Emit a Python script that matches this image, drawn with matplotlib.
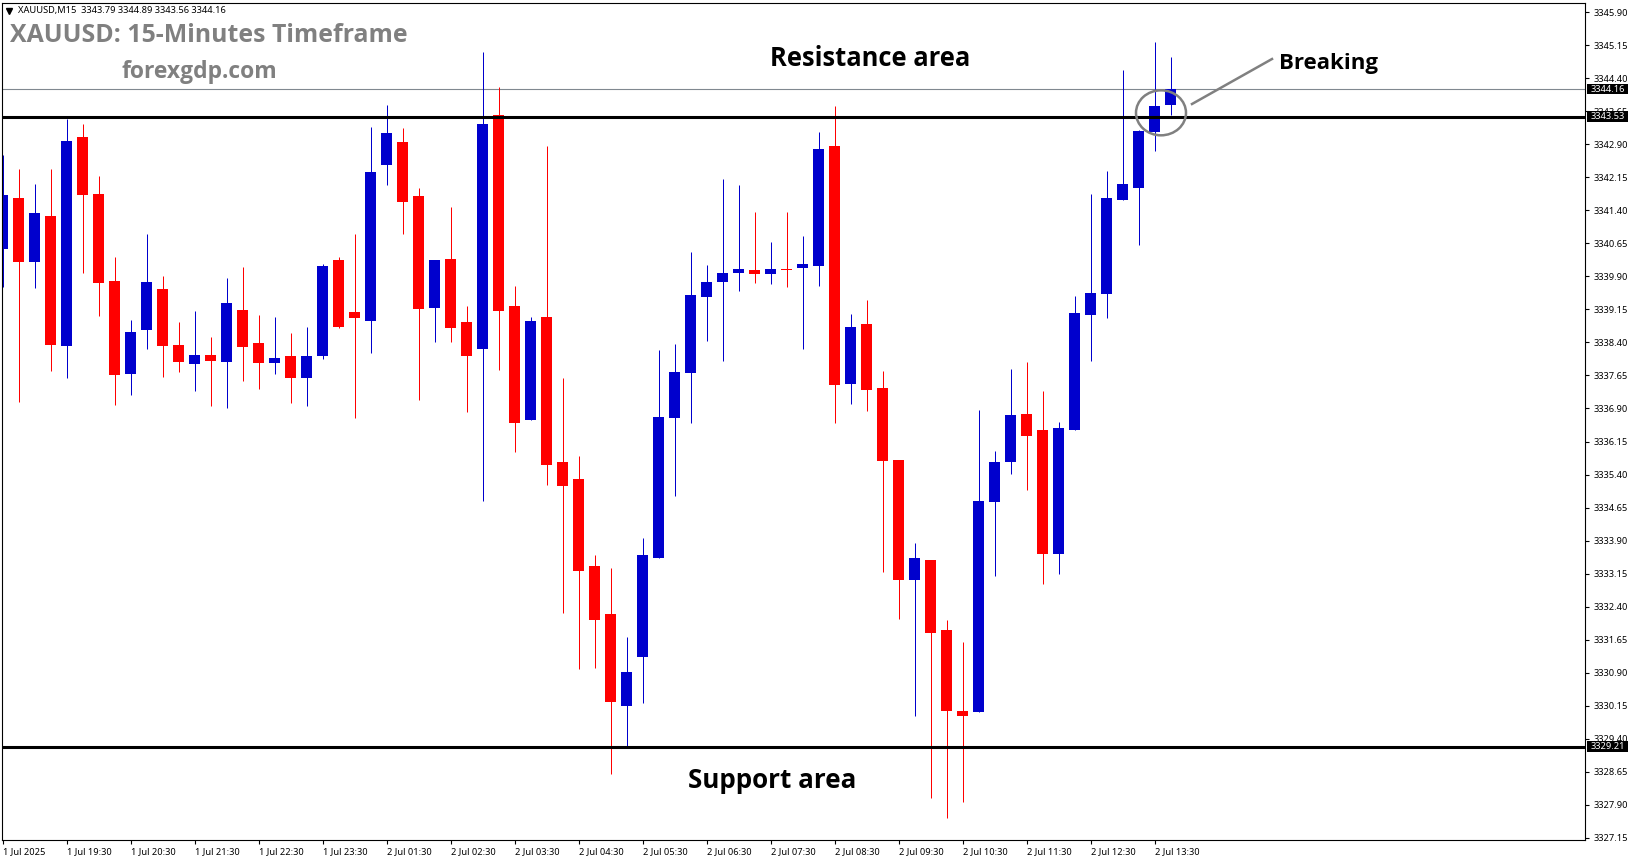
import matplotlib
matplotlib.use('Agg')
import matplotlib.pyplot as plt
from matplotlib.patches import Ellipse, Rectangle
from matplotlib.lines import Line2D
import numpy as np

W, H = 1631, 861

# candle values, 15 minute bars
open_ = [3340.53, 3341.68, 3340.23, 3341.28, 3338.32, 3343.07, 3341.78, 3339.80, 3337.68, 3338.68,
         3339.62, 3338.34, 3337.91, 3338.12, 3337.96, 3339.14, 3338.39, 3337.93, 3338.09, 3337.59,
         3338.09, 3340.28, 3339.09, 3338.89, 3342.43, 3342.96, 3341.73, 3339.18, 3340.30, 3338.87,
         3338.25, 3343.57, 3339.23, 3336.64, 3338.98, 3335.68, 3335.30, 3333.32, 3332.23, 3330.14,
         3331.25, 3333.50, 3336.68, 3337.71, 3339.43, 3339.78, 3339.98, 3340.05, 3339.96, 3340.07,
         3340.09, 3340.14, 3342.87, 3337.46, 3338.82, 3337.37, 3335.73, 3333.00, 3333.46, 3331.87,
         3330.02, 3330.00, 3334.78, 3335.68, 3336.78, 3336.41, 3333.59, 3336.41, 3339.02, 3339.50,
         3341.64, 3341.91, 3343.18, 3343.79]
high = [3342.66, 3342.34, 3342.00, 3342.34, 3343.48, 3343.37, 3342.18, 3340.34, 3338.91, 3340.87,
        3339.91, 3338.87, 3339.12, 3338.53, 3339.87, 3340.12, 3339.03, 3338.98, 3338.62, 3338.75,
        3340.18, 3340.34, 3340.87, 3343.30, 3343.80, 3343.28, 3341.91, 3340.28, 3341.48, 3339.23,
        3345.00, 3344.21, 3339.68, 3338.98, 3342.87, 3337.59, 3335.82, 3333.57, 3333.28, 3331.71,
        3333.96, 3338.23, 3338.37, 3340.46, 3340.16, 3342.12, 3341.98, 3341.37, 3340.68, 3341.37,
        3340.82, 3343.18, 3343.78, 3339.05, 3339.37, 3337.75, 3335.73, 3333.84, 3333.46, 3332.09,
        3331.59, 3336.87, 3335.93, 3337.80, 3337.96, 3337.30, 3336.59, 3339.46, 3341.78, 3342.30,
        3344.59, 3343.23, 3345.23, 3344.89]
low = [3339.67, 3337.05, 3339.64, 3337.75, 3337.59, 3339.98, 3339.00, 3336.98, 3337.21, 3338.25,
       3337.62, 3337.73, 3337.30, 3336.96, 3336.91, 3337.53, 3337.34, 3337.68, 3337.03, 3336.96,
       3338.03, 3338.73, 3336.68, 3338.16, 3341.98, 3340.87, 3337.09, 3338.41, 3338.41, 3336.82,
       3334.80, 3337.78, 3335.91, 3336.64, 3335.16, 3332.25, 3330.98, 3331.00, 3328.59, 3329.21,
       3330.21, 3333.50, 3334.91, 3336.57, 3338.43, 3337.98, 3339.57, 3339.75, 3339.73, 3339.66,
       3338.25, 3339.68, 3336.57, 3337.00, 3336.84, 3333.18, 3332.12, 3329.91, 3328.05, 3327.59,
       3327.96, 3330.00, 3333.09, 3335.41, 3335.05, 3332.91, 3333.14, 3336.41, 3337.98, 3338.96,
       3341.64, 3340.62, 3342.75, 3343.56]
close = [3341.75, 3340.23, 3341.34, 3338.34, 3342.98, 3341.75, 3339.75, 3337.66, 3338.64, 3339.78,
         3338.32, 3337.96, 3338.12, 3337.98, 3339.30, 3338.30, 3337.93, 3338.05, 3337.59, 3338.09,
         3340.14, 3338.75, 3338.96, 3342.28, 3343.16, 3341.59, 3339.16, 3340.28, 3338.73, 3338.09,
         3343.37, 3339.12, 3336.57, 3338.89, 3335.62, 3335.14, 3333.21, 3332.09, 3330.23, 3330.91,
         3333.57, 3336.71, 3337.73, 3339.48, 3339.78, 3339.98, 3340.07, 3339.96, 3340.07, 3340.05,
         3340.18, 3342.80, 3337.43, 3338.75, 3337.32, 3335.71, 3333.00, 3333.50, 3331.80, 3330.02,
         3329.91, 3334.80, 3335.68, 3336.75, 3336.27, 3333.59, 3336.46, 3339.07, 3339.52, 3341.68,
         3342.00, 3343.21, 3343.78, 3344.16]

price_ticks = [3345.90, 3345.15, 3344.40, 3343.65, 3342.90, 3342.15, 3341.40, 3340.65, 3339.90,
               3339.15, 3338.40, 3337.65, 3336.90, 3336.15, 3335.40, 3334.65, 3333.90, 3333.15,
               3332.40, 3331.65, 3330.90, 3330.15, 3329.40, 3328.65, 3327.90, 3327.15]
time_labels = ['1 Jul 2025', '1 Jul 19:30', '1 Jul 20:30', '1 Jul 21:30', '1 Jul 22:30', '1 Jul 23:30',
               '2 Jul 01:30', '2 Jul 02:30', '2 Jul 03:30', '2 Jul 04:30', '2 Jul 05:30', '2 Jul 06:30',
               '2 Jul 07:30', '2 Jul 08:30', '2 Jul 09:30', '2 Jul 10:30', '2 Jul 11:30', '2 Jul 12:30',
               '2 Jul 13:30']

resistance = 3343.53
support = 3329.21
last_price = 3344.16

RED = '#ff0000'
BLUE = '#0000cd'
GREY = '#808080'
BAR_PX = 16


def fx(px):
    return px / W


def fy(px):
    return 1 - px / H


def price_to_px(p):
    return 12.5 + (3345.90 - p) * 44


plt.rcParams['font.family'] = ['Noto Sans', 'DejaVu Sans']

fig = plt.figure(figsize=(W / 100, H / 100), dpi=100)
ax = fig.add_axes([fx(2.5), fy(840), fx(1585 - 2.5), (840 - 2.5) / H])
ax.set_xlim(-0.5 / BAR_PX, 1582 / BAR_PX)
ax.set_ylim(3345.90 - (840 - 12.5) / 44, 3345.90 + (12.5 - 2.5) / 44)

# candles
x = np.arange(len(open_))
o = np.array(open_)
c = np.array(close)
colors = [BLUE if cl >= op else RED for op, cl in zip(open_, close)]
ax.vlines(x, low, high, colors=colors, lw=0.72, antialiased=True, zorder=2)
ax.bar(x, np.abs(c - o), bottom=np.minimum(o, c), width=11 / BAR_PX, color=colors,
       antialiased=False, zorder=2)

# levels
ax.axhline(last_price, color='#808890', lw=0.8, zorder=1)
ax.axhline(resistance, color='black', lw=2.2, zorder=3)
ax.axhline(support, color='black', lw=2.2, zorder=3)

# breakout circle and pointer
ax.add_patch(Ellipse(((1161 - 3) / BAR_PX, 3343.62), 50 / BAR_PX, 45 / 44, fill=False,
                     ec=GREY, lw=1.8, zorder=4))
fig.add_artist(Line2D([fx(1192), fx(1272)], [fy(104), fy(59)], color=GREY, lw=1.8))

# axes look
ax.set_xticks(x[::4][:len(time_labels)])
ax.set_xticklabels(time_labels, ha='left', fontsize=6.7)
ax.set_yticks(price_ticks)
ax.set_yticklabels(['%.2f' % p for p in price_ticks], fontsize=6.7)
ax.yaxis.tick_right()
ax.tick_params(axis='y', direction='out', length=3, width=0.8, pad=3)
ax.tick_params(axis='x', direction='out', length=3, width=0.8, pad=2)
for s in ax.spines.values():
    s.set_linewidth(0.8)

# price labels on the right
for p in [last_price, resistance, support]:
    py = price_to_px(p)
    fig.add_artist(Rectangle((fx(1587), fy(py + 5)), 41 / W, 10.5 / H, transform=fig.transFigure,
                             fc='black', ec='none', zorder=5))
    fig.text(fx(1591), fy(py), '%.2f' % p, color='white', fontsize=6.7, va='center', zorder=6)

# header line
fig.add_artist(Line2D([fx(9.5)], [fy(11)], marker='v', color='black', ms=4.5, ls='none'))
fig.text(fx(18), fy(10.5), 'XAUUSD,M15  3343.79 3344.89 3343.56 3344.16', fontsize=6.7, va='center')

# overlay text
fig.text(fx(10), fy(35), 'XAUUSD: 15-Minutes Timeframe', color=GREY, fontsize=17.9, fontweight='bold',
         family='Open Sans', va='center')
fig.text(fx(121), fy(72), 'forexgdp.com', color=GREY, fontsize=16.5, fontweight='bold',
         family='Open Sans', va='center')
fig.text(fx(770), fy(59), 'Resistance area', color='black', fontsize=18.4, fontweight='bold',
         family='Open Sans', va='center')
fig.text(fx(688), fy(781), 'Support area', color='black', fontsize=18.7, fontweight='bold',
         family='Open Sans', va='center')
fig.text(fx(1279), fy(63), 'Breaking', color='black', fontsize=16, fontweight='bold',
         family='Open Sans', va='center')

fig.savefig('out.png', dpi=100)
